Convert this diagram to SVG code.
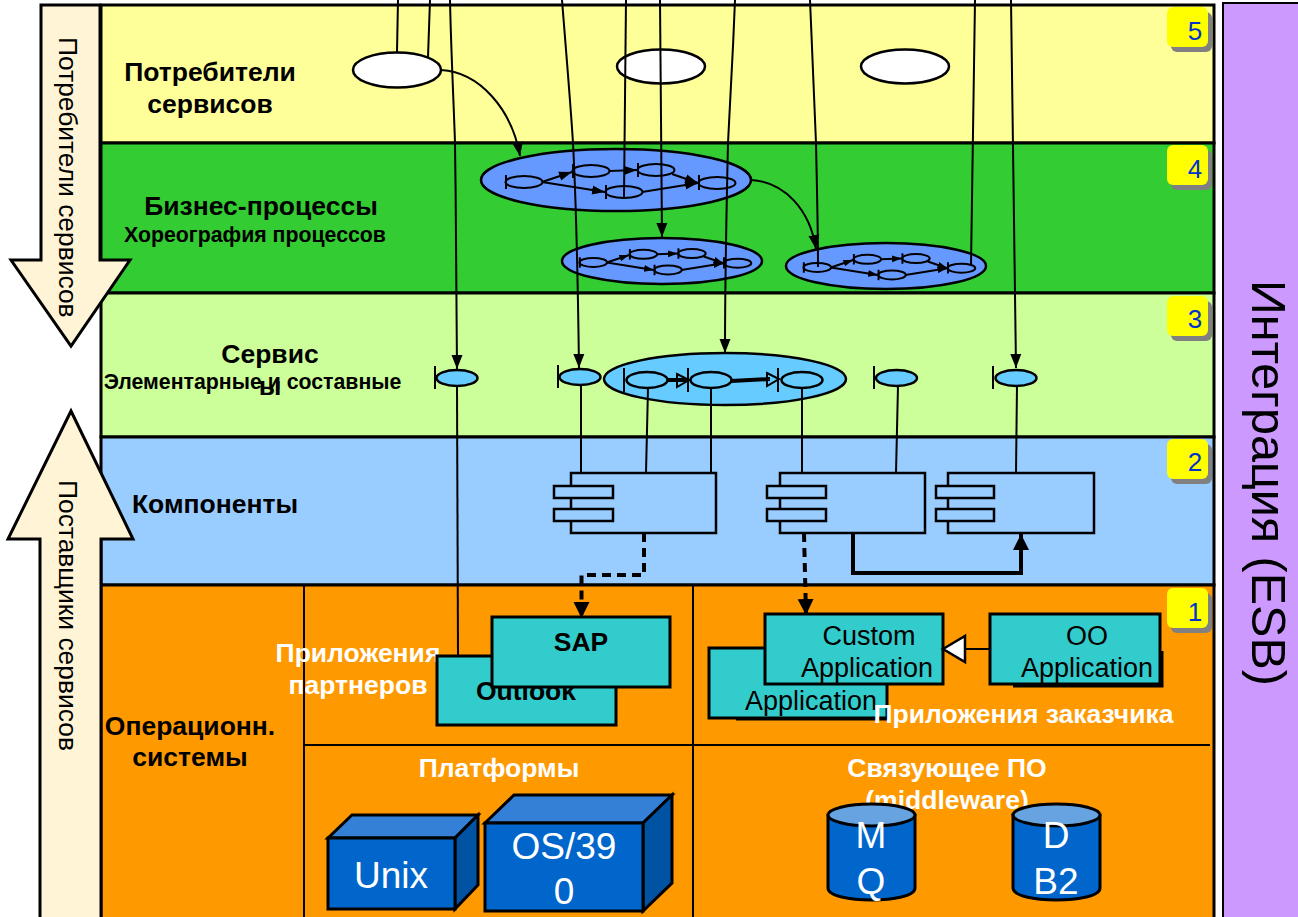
<svg xmlns="http://www.w3.org/2000/svg" width="1298" height="917" viewBox="0 0 1298 917">
<style>
text{font-family:"Liberation Sans",Arial,sans-serif}
.b{font-weight:bold;font-size:26.500px;text-anchor:middle;fill:#000}
.s{font-weight:bold;font-size:21.300px;text-anchor:middle;fill:#000}
.w{font-weight:bold;font-size:26.500px;text-anchor:middle;fill:#fff}
.t{font-size:27px;text-anchor:middle;fill:#000}
.big{font-size:37px;text-anchor:middle;fill:#fff}
.n{font-size:26px;text-anchor:middle;fill:#0033CC}
.rot{font-size:26.400px;fill:#000}
.layer{stroke:#000;stroke-width:3}
.ln{stroke:#000;stroke-width:2;fill:none}
.thin{stroke:#000;stroke-width:2;fill:none}
.box{fill:#33CCCC;stroke:#000;stroke-width:3}
.cp{fill:#99CCFF;stroke:#000;stroke-width:2.500}
.sv{fill:#66CCFF;stroke:#000;stroke-width:2.500}
.pr{fill:#6699FF;stroke:#000;stroke-width:2.500}
.arrowbar{fill:#FFF5D6;stroke:#000;stroke-width:3}
.shadow{fill:#808080}
.badge{fill:#FFFF00}
.front{fill:#0066CC;stroke:#000;stroke-width:3}
.top{fill:#3380D6;stroke:#000;stroke-width:3}
.side{fill:#0052A3;stroke:#000;stroke-width:3}
.captop{fill:#66A3E0;stroke:#000;stroke-width:3}
#flow *{vector-effect:non-scaling-stroke}
</style>
<defs>
<marker id="a" markerUnits="userSpaceOnUse" markerWidth="15" markerHeight="12" refX="14" refY="6" orient="auto"><path d="M0,0.500L14,6L0,11.500Z" fill="#000"/></marker>
<marker id="as" markerUnits="userSpaceOnUse" markerWidth="14" markerHeight="10" refX="13" refY="5" orient="auto"><path d="M0,0.500L13,5L0,9.500Z" fill="#000"/></marker>
<marker id="ab" markerUnits="userSpaceOnUse" markerWidth="18" markerHeight="17" refX="16" refY="8.500" orient="auto"><path d="M0,0.500L16,8.500L0,16.500Z" fill="#000"/></marker>
<g id="flow" fill="none" stroke="#000" stroke-width="2">
<ellipse cx="-92" cy="2" rx="18.500" ry="6"/><path d="M-110,-5V9"/>
<ellipse cx="-25" cy="-9" rx="18.500" ry="6"/><path d="M-43,-16V-2"/>
<ellipse cx="40" cy="-10" rx="18.500" ry="6"/><path d="M22,-17V-3"/>
<ellipse cx="8" cy="12" rx="18.500" ry="6"/><path d="M-10,5V19"/>
<ellipse cx="101" cy="3" rx="18.500" ry="6"/><path d="M83,-5V10"/>
<path d="M-74,2L-44,-8" marker-end="url(#as)"/>
<path d="M-7,-9L21,-10" marker-end="url(#as)"/>
<path d="M-74,2L-11,12" marker-end="url(#as)"/>
<path d="M26,12L82,3" marker-end="url(#as)"/>
<path d="M56,-6L82,3" marker-end="url(#as)"/>
</g>
</defs>

<g id="layers">
<rect id="layer5" x="101" y="5" width="1113" height="138" fill="#FFFF99" class="layer"/>
<rect id="layer4" x="101" y="143" width="1113" height="150" fill="#33CC33" class="layer"/>
<rect id="layer3" x="101" y="293" width="1113" height="144" fill="#CCFF99" class="layer"/>
<rect id="layer2" x="101" y="437" width="1113" height="148" fill="#99CCFF" class="layer"/>
<rect id="layer1" x="101" y="585" width="1113" height="340" fill="#FF9900" class="layer"/>
<path class="thin" d="M304,585V917M693,585V917M304,745H1210"/>
</g>

<g id="esb-bar">
<rect x="1223" y="3" width="80" height="920" fill="#CC99FF" stroke="#000" stroke-width="2"/>
<text transform="translate(1252,280) rotate(90)" font-size="48.500" fill="#000">Интеграция (ESB)</text>
</g>

<g id="consumers-arrow">
<polygon class="arrowbar" points="41,5 100,5 100,260 130,260 71,346 11,260 41,260"/>
<text class="rot" transform="translate(59,37) rotate(90)">Потребители сервисов</text>
</g>
<g id="providers-arrow">
<polygon class="arrowbar" points="71,411 133,539 101,539 101,925 40,925 40,539 8,539"/>
<text class="rot" transform="translate(59,480) rotate(90)">Поставщики сервисов</text>
</g>

<g id="labels">
<text class="b" x="210" y="81">Потребители</text>
<text class="b" x="210" y="113">сервисов</text>
<text class="b" x="261" y="215">Бизнес-процессы</text>
<text class="s" x="255" y="242">Хореография процессов</text>
<text class="b" x="270" y="363">Сервис</text>
<text class="s" x="252.500" y="389">Элементарные и составные</text>
<text class="b" x="270" y="395">ы</text>
<text class="b" x="215" y="513">Компоненты</text>
<text class="b" x="190" y="735">Операционн.</text>
<text class="b" x="190" y="766">системы</text>
<text class="w" x="358" y="662">Приложения</text>
<text class="w" x="358" y="694">партнеров</text>
<text class="w" x="499" y="777">Платформы</text>
<text class="w" x="947" y="777">Связующее ПО</text>
<text class="w" x="947" y="809">(middleware)</text>
</g>

<g id="badge5"><rect class="shadow" x="1171" y="12" width="41" height="40" rx="6"/><rect class="badge" x="1167" y="7" width="41" height="40" rx="6"/><text class="n" x="1195" y="40">5</text></g>
<g id="badge4"><rect class="shadow" x="1171" y="150" width="41" height="40" rx="6"/><rect class="badge" x="1167" y="145" width="41" height="40" rx="6"/><text class="n" x="1195" y="178">4</text></g>
<g id="badge3"><rect class="shadow" x="1171" y="301" width="41" height="40" rx="6"/><rect class="badge" x="1167" y="296" width="41" height="40" rx="6"/><text class="n" x="1195" y="328">3</text></g>
<g id="badge2"><rect class="shadow" x="1171" y="444" width="41" height="40" rx="6"/><rect class="badge" x="1167" y="439" width="41" height="40" rx="6"/><text class="n" x="1195" y="471">2</text></g>
<g id="badge1"><rect class="shadow" x="1171" y="593" width="41" height="40" rx="6"/><rect class="badge" x="1167" y="588" width="41" height="40" rx="6"/><text class="n" x="1195" y="621">1</text></g>

<g id="consumer1"><ellipse cx="397" cy="70" rx="44" ry="17.500" fill="#fff" stroke="#000" stroke-width="2.500"/></g>
<g id="consumer2"><ellipse cx="661" cy="66.500" rx="44" ry="17" fill="#fff" stroke="#000" stroke-width="2.500"/></g>
<g id="consumer3"><ellipse cx="905" cy="66.500" rx="44" ry="17" fill="#fff" stroke="#000" stroke-width="2.500"/></g>

<g id="process1"><ellipse class="pr" cx="616" cy="180" rx="135" ry="31"/><use href="#flow" transform="translate(616,180)"/></g>
<g id="process2"><ellipse class="pr" cx="662" cy="261" rx="100" ry="23"/><use href="#flow" transform="translate(662,261) scale(.747)"/></g>
<g id="process3"><ellipse class="pr" cx="886" cy="266" rx="100" ry="23"/><use href="#flow" transform="translate(886,266) scale(.747)"/></g>

<g id="service1"><ellipse class="sv" cx="457" cy="378" rx="20.500" ry="8"/><path class="ln" d="M435,366V389"/></g>
<g id="service2"><ellipse class="sv" cx="580" cy="377" rx="20.500" ry="8"/><path class="ln" d="M558,365V388"/></g>
<g id="service-composite">
<ellipse class="sv" cx="725" cy="379" rx="121" ry="26"/>
<ellipse class="sv" cx="647" cy="380" rx="20.500" ry="8"/><path class="ln" d="M624,368V392"/>
<ellipse class="sv" cx="711" cy="380" rx="20.500" ry="8"/><path class="ln" d="M688,368V392"/>
<ellipse class="sv" cx="802" cy="380" rx="20.500" ry="8"/><path class="ln" d="M778,368V392"/>
<path class="ln" d="M667,379H688M667,381H688M731,380L770,378M731,382L770,380"/>
<path class="ln" d="M677,374L689,380L677,387ZM767,373L779,379L767,386Z"/>
</g>
<g id="service3"><ellipse class="sv" cx="896.500" cy="378" rx="20.500" ry="8"/><path class="ln" d="M874,366V389"/></g>
<g id="service4"><ellipse class="sv" cx="1016" cy="378" rx="20.500" ry="8"/><path class="ln" d="M993,366V389"/></g>

<g id="component1"><rect class="cp" x="571" y="473" width="145" height="60"/><rect class="cp" x="554" y="486" width="59" height="12"/><rect class="cp" x="554" y="509" width="59" height="12"/></g>
<g id="component2"><rect class="cp" x="780" y="473" width="145" height="60"/><rect class="cp" x="767" y="486" width="59" height="12"/><rect class="cp" x="767" y="509" width="59" height="12"/></g>
<g id="component3"><rect class="cp" x="948" y="473" width="146" height="60"/><rect class="cp" x="936" y="486" width="58" height="12"/><rect class="cp" x="936" y="509" width="58" height="12"/></g>

<g id="app-outlook"><rect class="box" x="437" y="656" width="179" height="69"/><text class="b" x="526" y="700">Outlook</text></g>
<g id="app-sap"><rect class="box" x="492" y="617" width="178" height="70"/><text class="b" x="581" y="651">SAP</text></g>
<g id="app-back"><path d="M736,719H887" stroke="#000" stroke-width="3"/><rect class="box" x="709" y="648" width="178" height="70"/><text class="t" x="811" y="710">Application</text></g>
<g id="app-custom"><rect class="box" x="765" y="614" width="178" height="70"/><text class="t" x="869" y="645">Custom</text><text class="t" x="867" y="677">Application</text></g>
<g id="app-oo"><path d="M1013,686H1162V651" fill="none" stroke="#000" stroke-width="3"/><rect class="box" x="990" y="614" width="170" height="70"/><text class="t" x="1087" y="645">OO</text><text class="t" x="1087" y="677">Application</text></g>
<text id="label-customer-apps" class="w" x="1023.500" y="723">Приложения заказчика</text>

<g id="platform-unix">
<polygon class="top" points="328,838 352,815 478,815 455,838"/>
<polygon class="side" points="455,838 478,815 478,885 455,909"/>
<rect class="front" x="328" y="838" width="127" height="71"/>
<text class="big" x="391" y="888">Unix</text>
</g>
<g id="platform-os390">
<polygon class="top" points="485,823 514,795 672,795 643,823"/>
<polygon class="side" points="643,823 672,795 672,883 643,911"/>
<rect class="front" x="485" y="823" width="158" height="88"/>
<text class="big" x="564" y="859">OS/39</text><text class="big" x="564" y="904">0</text>
</g>
<g id="mw-mq">
<path class="front" d="M828,815V888C828,904 915,904 915,888V815Z"/>
<ellipse class="captop" cx="871.500" cy="815" rx="43.500" ry="11"/>
<text class="big" x="871" y="848">M</text><text class="big" x="871" y="894">Q</text>
</g>
<g id="mw-db2">
<path class="front" d="M1013,815V888C1013,904 1100,904 1100,888V815Z"/>
<ellipse class="captop" cx="1056.500" cy="815" rx="43.500" ry="11"/>
<text class="big" x="1056" y="848">D</text><text class="big" x="1056" y="894">B2</text>
</g>

<g id="connectors">
<path class="ln" d="M398,0L397,52"/>
<path class="ln" d="M430,0L428,57"/>
<path class="ln" d="M450,0C451,50 454,110 455,143C456,220 457,300 457,369" marker-end="url(#a)"/>
<path class="ln" d="M457,387L458,655"/>
<path class="ln" d="M562,0C566,50 571,110 573,143C576,200 578,290 579,368" marker-end="url(#a)"/>
<path class="ln" d="M581,386V473"/>
<path class="ln" d="M626,0L624,197"/>
<path class="ln" d="M660,0L662,237" marker-end="url(#a)"/>
<path class="ln" d="M735,0C733,50 730,110 728,143C726,230 725,300 725,353" marker-end="url(#a)"/>
<path class="ln" d="M810,0C812,50 815,110 816,143C817,190 818,230 818,267"/>
<path class="ln" d="M975,0L971,266"/>
<path class="ln" d="M1011,0L1016,368" marker-end="url(#a)"/>
<path class="ln" d="M441,70C480,72 512,110 520,156" marker-end="url(#a)"/>
<path class="ln" d="M751,180C785,182 810,210 816,249" marker-end="url(#a)"/>
<path class="ln" d="M648,388L646,473"/>
<path class="ln" d="M711,388V473"/>
<path class="ln" d="M802,388V473"/>
<path class="ln" d="M898,386L896,473"/>
<path class="ln" d="M1017,385L1016,473"/>
<path d="M644,533V575H581.500V618" fill="none" stroke="#000" stroke-width="4" stroke-dasharray="9 6" marker-end="url(#ab)"/>
<path d="M804,533L806,615" fill="none" stroke="#000" stroke-width="4" stroke-dasharray="9 6" marker-end="url(#ab)"/>
<path d="M853,533V573H1021V534" fill="none" stroke="#000" stroke-width="4" marker-end="url(#ab)"/>
<path d="M965,649H990" stroke="#000" stroke-width="2"/>
<polygon points="943,649 965,636 965,662" fill="#fff" stroke="#000" stroke-width="2.500"/>
</g>
</svg>
